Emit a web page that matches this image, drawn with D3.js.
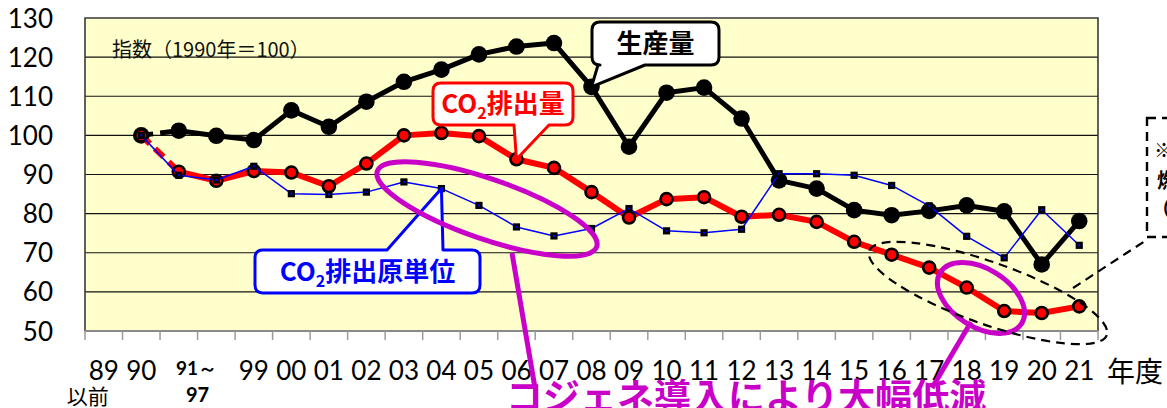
<!DOCTYPE html>
<html lang="ja">
<head>
<meta charset="utf-8">
<script src="https://cdn.jsdelivr.net/npm/d3@7"></script>
<style>
  html, body { margin: 0; padding: 0; background: #fff; }
  svg { display: block; }
</style>
</head>
<body>
<svg id="chart" width="1167" height="408"></svg>
<script>
// 年度カテゴリ（91～97 は2点で表示）
const categories = ["89以前","90","91","97","99","00","01","02","03","04","05","06","07","08","09",
                    "10","11","12","13","14","15","16","17","18","19","20","21"];

// 指数（1990年＝100）
const production = [null, 100, 101.2, 99.9, 98.8, 106.4, 102.2, 108.6, 113.7, 116.8, 120.7, 122.7, 123.6,
                    112.4, 97.1, 110.9, 112.2, 104.3, 88.5, 86.4, 80.9, 79.6, 80.7, 82.1, 80.6, 67.0, 78.1];
const co2 = [null, 100, 90.7, 88.4, 90.9, 90.5, 87.0, 92.8, 100.0, 100.6, 99.8, 93.9, 91.7,
             85.5, 79.0, 83.7, 84.2, 79.2, 79.7, 77.9, 72.8, 69.5, 66.2, 61.1, 55.1, 54.6, 56.3];
const intensity = [null, 100, 89.8, 88.6, 92.1, 85.1, 84.9, 85.5, 88.1, 86.4, 82.1, 76.6, 74.3,
                   76.2, 81.3, 75.6, 75.1, 76.0, 90.2, 90.2, 89.8, 87.2, 82.0, 74.2, 68.7, 81.0, 71.9];

const yTicks = [50, 60, 70, 80, 90, 100, 110, 120, 130];

const svg = d3.select("#chart");
const W = 1167, H = 408;
const plot = { left: 85, right: 1098, top: 18, bottom: 331 };

const x = d3.scaleBand().domain(categories).range([plot.left, plot.right]).paddingInner(0).paddingOuter(0);
const xc = c => x(c) + x.bandwidth() / 2;
const y = d3.scaleLinear().domain([50, 130]).range([plot.bottom, plot.top]);

const CJK = "'Noto Sans CJK JP', 'Noto Sans', sans-serif";
const NUM = "Lato, 'Liberation Sans', sans-serif";

svg.append("rect").attr("width", W).attr("height", H).attr("fill", "#fff");

// plot area
svg.append("rect")
  .attr("x", plot.left).attr("y", plot.top)
  .attr("width", plot.right - plot.left).attr("height", plot.bottom - plot.top)
  .attr("fill", "#FFFFCC");

// horizontal gridlines
svg.append("g").selectAll("line")
  .data(yTicks.filter(t => t > 50 && t < 130))
  .join("line")
  .attr("x1", plot.left).attr("x2", plot.right)
  .attr("y1", d => y(d)).attr("y2", d => y(d))
  .attr("stroke", "#111").attr("stroke-width", 1.1);

// frame
svg.append("path")
  .attr("d", `M${plot.left},${plot.bottom}V${plot.top}H${plot.right}V${plot.bottom}`)
  .attr("fill", "none").attr("stroke", "#3a3a3a").attr("stroke-width", 1.6);

// y axis labels
const yAxis = d3.axisLeft(y).tickValues(yTicks).tickSize(0).tickPadding(32);
const gy = svg.append("g").attr("transform", `translate(${plot.left},0)`).call(yAxis);
gy.select(".domain").remove();
gy.selectAll("text")
  .attr("font-family", NUM).attr("font-size", 26).attr("fill", "#000")
  .attr("dy", "0.35em");

// x axis line and boundary ticks
svg.append("line")
  .attr("x1", plot.left).attr("x2", plot.right)
  .attr("y1", plot.bottom).attr("y2", plot.bottom)
  .attr("stroke", "#8a8a8a").attr("stroke-width", 2);
const bounds = categories.map(c => x(c)).concat([plot.right]);
svg.append("g").selectAll("line")
  .data(bounds).join("line")
  .attr("x1", d => d).attr("x2", d => d)
  .attr("y1", plot.bottom).attr("y2", plot.bottom + 9)
  .attr("stroke", "#9a9a9a").attr("stroke-width", 1.5);

// x labels
const gx = svg.append("g").attr("font-family", NUM).attr("fill", "#000");
categories.forEach((c, i) => {
  if (c === "91" || c === "97") return;
  if (c === "89以前") {
    gx.append("text").attr("x", xc(c)).attr("y", 380).attr("text-anchor", "middle")
      .attr("font-size", 26).text("89");
    gx.append("text").attr("x", xc(c) - 16).attr("y", 404).attr("text-anchor", "middle")
      .attr("font-family", CJK).attr("font-size", 21).text("以前");
    return;
  }
  gx.append("text").attr("x", xc(c)).attr("y", 380).attr("text-anchor", "middle")
    .attr("font-size", 26).text(c);
});
const midSpan = (xc("91") + xc("97")) / 2;
gx.append("text").attr("x", midSpan - 1).attr("y", 375).attr("text-anchor", "middle")
  .attr("font-size", 19).attr("font-weight", 700).text("91～");
gx.append("text").attr("x", midSpan).attr("y", 402).attr("text-anchor", "middle")
  .attr("font-size", 20).attr("font-weight", 700).text("97");
svg.append("text").attr("x", 1107).attr("y", 382)
  .attr("font-family", CJK).attr("font-size", 28).attr("fill", "#000").text("年度");

// index note
svg.append("text").attr("x", 112).attr("y", 57)
  .attr("font-family", CJK).attr("font-size", 20).attr("fill", "#111")
  .text("指数（1990年＝100）");

// series
const pts = arr => arr.map((v, i) => ({ c: categories[i], v, i })).filter(d => d.v != null);
const line = d3.line().x(d => xc(d.c)).y(d => y(d.v));

function drawSeries(arr, color, width, dashedFirst) {
  const p = pts(arr);
  const g = svg.append("g");
  if (dashedFirst) {
    g.append("path").attr("d", line(p.slice(0, 2)))
      .attr("fill", "none").attr("stroke", color).attr("stroke-width", width)
      .attr("stroke-dasharray", "12,7");
    g.append("path").attr("d", line(p.slice(1)))
      .attr("fill", "none").attr("stroke", color).attr("stroke-width", width)
      .attr("stroke-linejoin", "round");
  } else {
    g.append("path").attr("d", line(p))
      .attr("fill", "none").attr("stroke", color).attr("stroke-width", width)
      .attr("stroke-linejoin", "round");
  }
  return { g, p };
}

// 生産量
const sProd = drawSeries(production, "#000", 5, true);
sProd.g.selectAll("circle").data(sProd.p).join("circle")
  .attr("cx", d => xc(d.c)).attr("cy", d => y(d.v)).attr("r", 8.3).attr("fill", "#000");

// CO2排出量
const sCo2 = drawSeries(co2, "#FF0000", 6, true);
sCo2.g.selectAll("circle").data(sCo2.p).join("circle")
  .attr("cx", d => xc(d.c)).attr("cy", d => y(d.v)).attr("r", 6)
  .attr("fill", "#FF0000").attr("stroke", "#000").attr("stroke-width", 2.6);

// CO2排出原単位
const sInt = drawSeries(intensity, "#0000FF", 1.5, false);
sInt.g.selectAll("rect.m").data(sInt.p).join("rect").attr("class", "m")
  .attr("x", d => xc(d.c) - 3.6).attr("y", d => y(d.v) - 3.6)
  .attr("width", 7.2).attr("height", 7.2).attr("fill", "#000");
sInt.g.selectAll("rect.c").data(sInt.p).join("rect").attr("class", "c")
  .attr("x", d => xc(d.c) - 1).attr("y", d => y(d.v) - 1)
  .attr("width", 2).attr("height", 2).attr("fill", "#0000FF");

// callouts
function calloutPath(x0, y0, x1, y1, r, side, ta, tb, tip) {
  let p = `M${x0 + r},${y0}`;
  if (side === "top") p += `L${ta},${y0}L${tip[0]},${tip[1]}L${tb},${y0}`;
  p += `L${x1 - r},${y0}Q${x1},${y0} ${x1},${y0 + r}L${x1},${y1 - r}Q${x1},${y1} ${x1 - r},${y1}`;
  if (side === "bottom") p += `L${tb},${y1}L${tip[0]},${tip[1]}L${ta},${y1}`;
  p += `L${x0 + r},${y1}Q${x0},${y1} ${x0},${y1 - r}L${x0},${y0 + r}Q${x0},${y0} ${x0 + r},${y0}Z`;
  return p;
}
function callout(box, side, ta, tb, tip, color, parts) {
  svg.append("path")
    .attr("d", calloutPath(box[0], box[1], box[2], box[3], 8, side, ta, tb, tip))
    .attr("fill", "#fff").attr("stroke", color).attr("stroke-width", 3)
    .attr("stroke-linejoin", "round");
  const t = svg.append("text")
    .attr("x", (box[0] + box[2]) / 2).attr("y", (box[1] + box[3]) / 2 + 9)
    .attr("text-anchor", "middle").attr("font-family", CJK)
    .attr("font-weight", 700).attr("font-size", 26).attr("fill", color);
  parts.forEach(pt => {
    const s = t.append("tspan").text(pt.t);
    if (pt.sub) s.attr("font-size", 16).attr("dy", 6);
    if (pt.up) s.attr("dy", -6);
  });
}

callout([592, 22, 719, 65], "bottom", 598, 645, [xc("08"), y(production[13])], "#000",
  [{ t: "生産量" }]);
callout([433, 83, 573, 125], "bottom", 514, 549, [xc("06"), y(co2[11])], "#FF0000",
  [{ t: "CO" }, { t: "2", sub: true }, { t: "排出量", up: true }]);
callout([255, 250, 480, 293], "top", 387, 443, [xc("04"), y(intensity[9])], "#0000FF",
  [{ t: "CO" }, { t: "2", sub: true }, { t: "排出原単位", up: true }]);

// highlight rings and leaders
const MAG = "#C800C8";
svg.append("ellipse").attr("cx", 0).attr("cy", 0).attr("rx", 116).attr("ry", 30)
  .attr("transform", "translate(487,209) rotate(19)")
  .attr("fill", "none").attr("stroke", MAG).attr("stroke-width", 5);
svg.append("line").attr("x1", 512).attr("y1", 253).attr("x2", 535).attr("y2", 388)
  .attr("stroke", MAG).attr("stroke-width", 5);
svg.append("ellipse").attr("cx", 0).attr("cy", 0).attr("rx", 48).attr("ry", 29)
  .attr("transform", "translate(981,298) rotate(32)")
  .attr("fill", "none").attr("stroke", MAG).attr("stroke-width", 5);
svg.append("line").attr("x1", 971).attr("y1", 322).attr("x2", 932).attr("y2", 388)
  .attr("stroke", MAG).attr("stroke-width", 5);

// dashed group ring and note box
svg.append("ellipse").attr("cx", 0).attr("cy", 0).attr("rx", 126).attr("ry", 31)
  .attr("transform", "translate(988,293) rotate(19.5)")
  .attr("fill", "none").attr("stroke", "#000").attr("stroke-width", 2.2)
  .attr("stroke-dasharray", "9,6");
svg.append("line").attr("x1", 1073).attr("y1", 288).attr("x2", 1145).attr("y2", 241)
  .attr("stroke", "#000").attr("stroke-width", 2.2).attr("stroke-dasharray", "9,6");
svg.append("rect").attr("x", 1147).attr("y", 118).attr("width", 80).attr("height", 119)
  .attr("fill", "#fff").attr("stroke", "#000").attr("stroke-width", 2.4)
  .attr("stroke-dasharray", "9,6");
const note = svg.append("g").attr("font-family", CJK).attr("font-weight", 700)
  .attr("font-size", 20).attr("fill", "#000");
note.append("text").attr("x", 1154).attr("y", 158).text("※");
note.append("text").attr("x", 1157).attr("y", 188).text("燃");
note.append("text").attr("x", 1151).attr("y", 216).text("（");

// main message
svg.append("text").attr("x", 506).attr("y", 411)
  .attr("font-family", CJK).attr("font-weight", 700).attr("font-size", 37)
  .attr("fill", MAG).text("コジェネ導入により大幅低減");
</script>
</body>
</html>
